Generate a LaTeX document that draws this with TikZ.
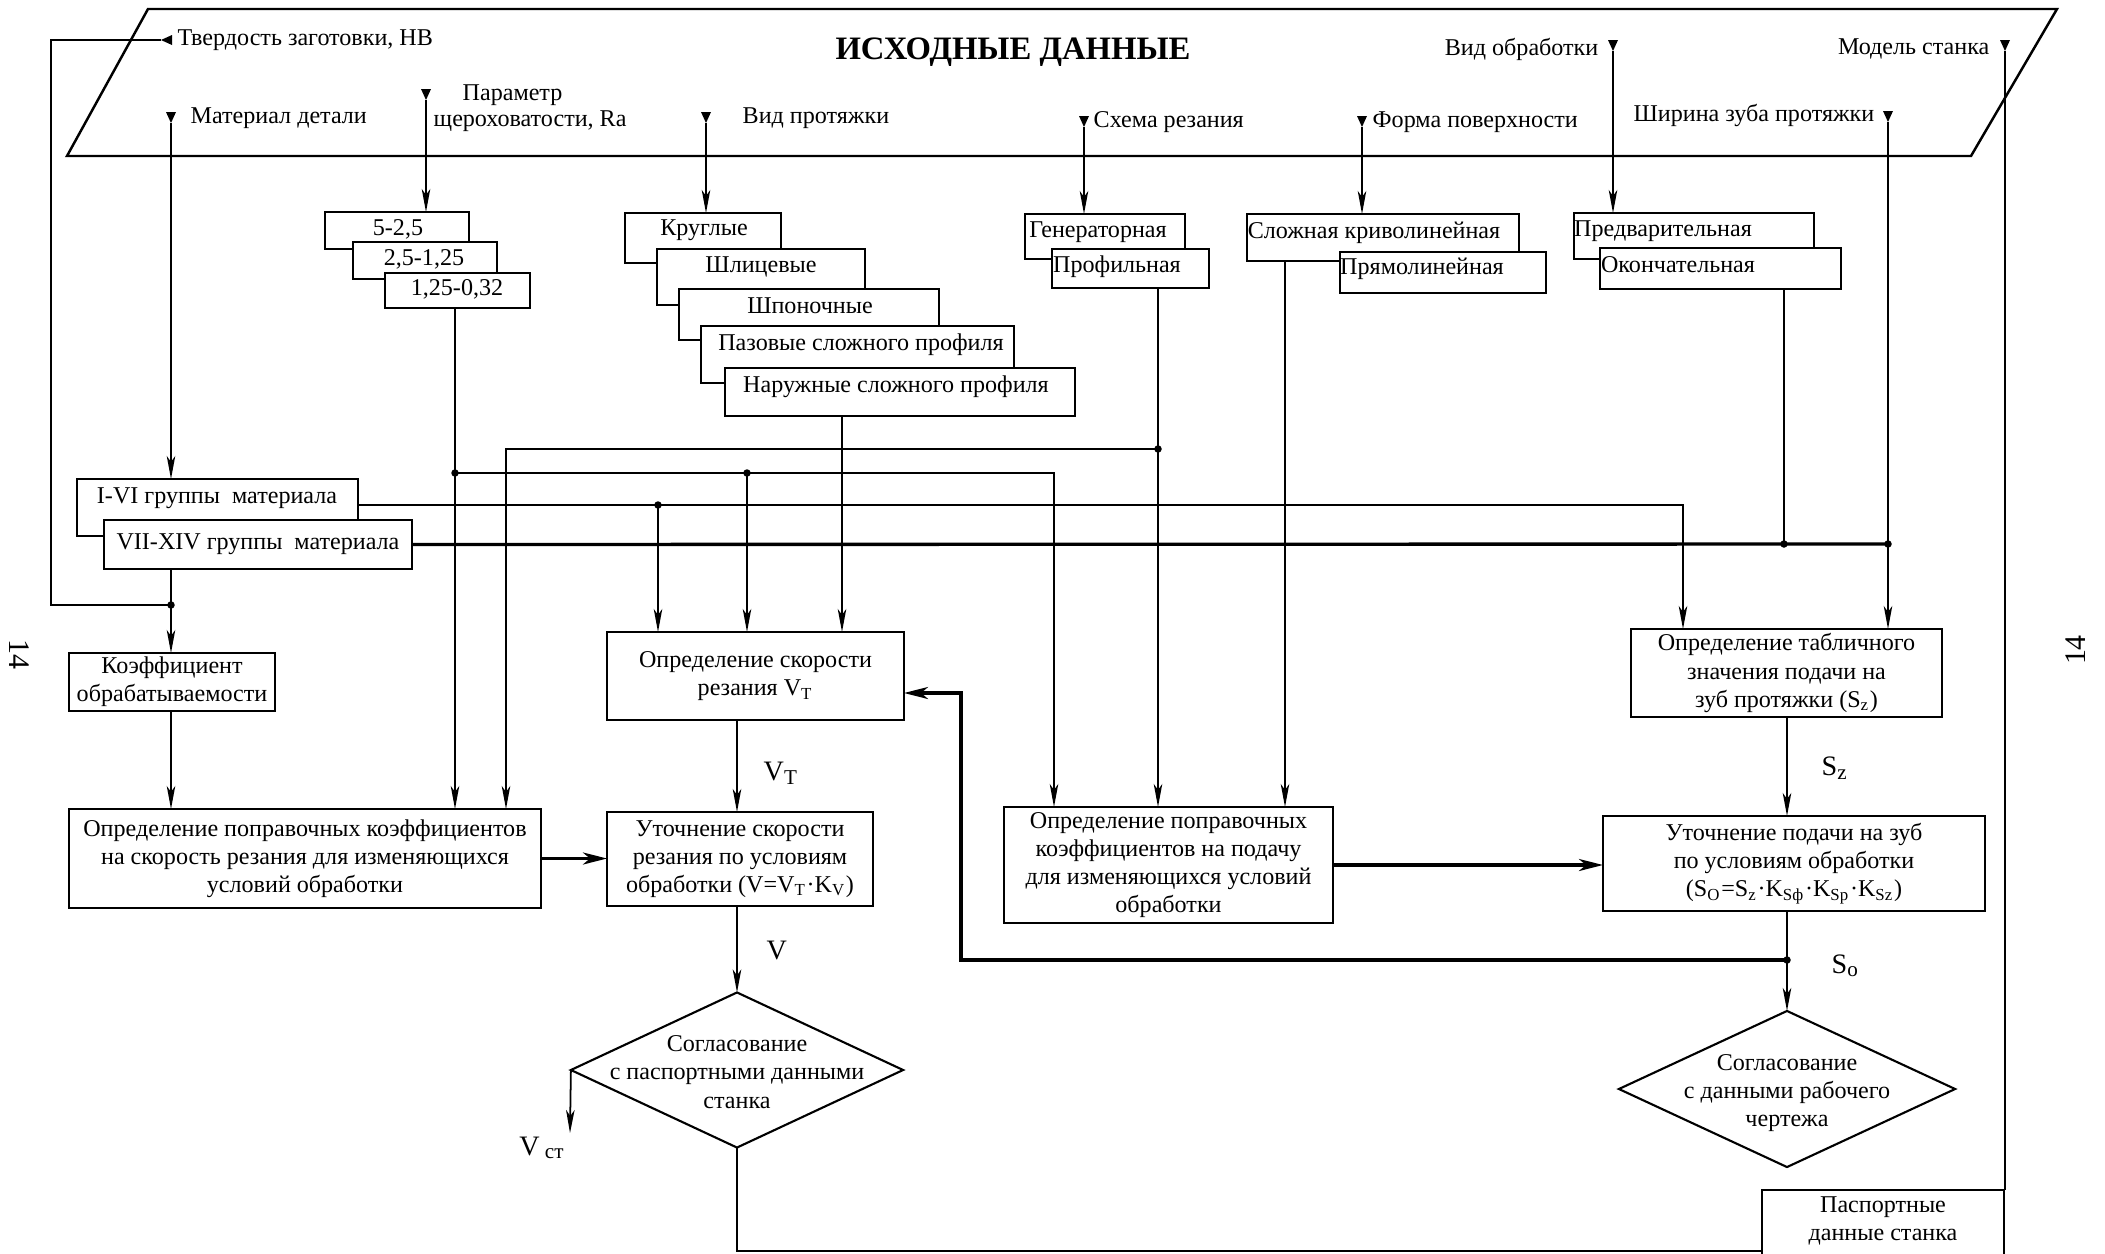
\documentclass[tikz,border=0pt]{standalone}
\usepackage{fontspec}
\setmainfont{Liberation Serif}
\usetikzlibrary{arrows.meta,shapes.geometric}
\tikzset{
 ln/.style={line width=0.5pt},
 thk/.style={line width=0.95pt},
 arr/.style={ln,-{Stealth[length=2.3mm,width=0.85mm,inset=0.6mm]}},
 tarr/.style={thk,-{Stealth[length=2.4mm,width=1.2mm,inset=0.7mm]}},
 bx/.style={draw,line width=0.6pt,fill=white,inner sep=0pt,outer sep=0pt,align=center},
 tx/.style={inner sep=0pt,align=center},
 jd/.style={circle,fill,inner sep=0pt,minimum size=0.075cm},
 lbl/.style={inner sep=0pt,font=\fontsize{8}{9}\selectfont},
 dm/.style={diamond,draw,line width=0.6pt,inner sep=0pt,outer sep=0pt},
}
\newcommand{\mybox}[6]{%
 \pgfmathsetmacro{\mbw}{(#4-#2)*0.01}%
 \pgfmathsetmacro{\mbh}{(#5-#3)*0.01}%
 \node[bx,minimum width=\mbw cm,minimum height=\mbh cm] (#1) at ({(#2+#4)/2},{(#3+#5)/2}) {#6};}
\newcommand{\mk}[3]{\coordinate (#1) at (#2,#3);\fill (#2-5,#3-11) -- (#2+5,#3-11) -- (#2,#3) -- cycle;}
\begin{document}
\begin{tikzpicture}[x=0.01cm,y=-0.01cm,every node/.append style={font=\fontsize{6.85}{8}\selectfont}]
\useasboundingbox (0,0) rectangle (2105,1254);
% header
\draw[line width=0.7pt] (148,9) -- (2057,9) -- (1971,156) -- (67,156) -- cycle;
\node[tx,font=\fontsize{9.3}{10}\selectfont\bfseries] (title) at (1013,52) {ИСХОДНЫЕ ДАННЫЕ};
% markers
\coordinate (mTv) at (161,40); \fill (161,40) -- (172,35) -- (172,45) -- cycle;
\mk{mMat}{171}{123}
\mk{mRa}{426}{100}
\mk{mVid}{706}{123}
\mk{mSch}{1084}{127}
\mk{mForm}{1362}{127}
\mk{mObr}{1613}{51}
\mk{mMod}{2005}{51}
\mk{mShir}{1888}{122}
% input labels
\node[tx,anchor=west] (lTv) at (177,40) {Твердость заготовки, НВ};
\node[tx,anchor=west] (lMat) at (190,118) {Материал детали};
\node[tx,anchor=west] (lRa1) at (462,95) {Параметр};
\node[tx,anchor=west] (lRa2) at (433,121) {щероховатости, Ra};
\node[tx,anchor=west] (lVid) at (742,118) {Вид протяжки};
\node[tx,anchor=west] (lSch) at (1093,122) {Схема резания};
\node[tx,anchor=west] (lForm) at (1372,122) {Форма поверхности};
\node[tx,anchor=east] (lObr) at (1599,49) {Вид обработки};
\node[tx,anchor=east] (lMod) at (1990,49) {Модель станка};
\node[tx,anchor=east] (lShir) at (1875,115) {Ширина зуба протяжки};
% roughness boxes
\mybox{r1}{325}{212}{469}{249}{}
\node[tx] (tr1) at (398,229) {5-2,5};
\mybox{r2}{353}{242}{497}{279}{}
\node[tx] (tr2) at (424,259) {2,5-1,25};
\mybox{r3}{385}{273}{530}{308}{}
\node[tx] (tr3) at (457,289) {1,25-0,32};
% broach type boxes
\mybox{v1}{625}{213}{781}{263}{}
\node[tx] (tv1) at (704,230) {Круглые};
\mybox{v2}{657}{249}{865}{305}{}
\node[tx] (tv2) at (761,267) {Шлицевые};
\mybox{v3}{679}{289}{939}{340}{}
\node[tx] (tv3) at (810,306) {Шпоночные};
\mybox{v4}{701}{326}{1014}{383}{}
\node[tx] (tv4) at (861,345) {Пазовые сложного профиля};
\mybox{v5}{725}{368}{1075}{416}{}
\node[tx] (tv5) at (896,387) {Наружные сложного профиля};
% scheme
\mybox{s1}{1025}{214}{1185}{259}{}
\node[tx] (ts1) at (1098,232) {Генераторная};
\mybox{s2}{1052}{249}{1209}{288}{}
\node[tx] (ts2) at (1117,267) {Профильная};
% form
\mybox{f1}{1247}{214}{1519}{261}{}
\node[tx] (tf1) at (1374,233) {Сложная криволинейная};
\mybox{f2}{1340}{252}{1546}{293}{}
\node[tx] (tf2) at (1422,269) {Прямолинейная};
% processing type
\mybox{o1}{1574}{213}{1814}{259}{}
\node[tx] (to1) at (1663,231) {Предварительная};
\mybox{o2}{1600}{248}{1841}{289}{}
\node[tx] (to2) at (1678,265) {Окончательная};
% material groups
\mybox{g1}{77}{479}{358}{536}{}
\node[tx] (tg1) at (217,498) {I-VI группы~ материала};
\mybox{g2}{104}{520}{412}{569}{}
\node[tx] (tg2) at (258,544) {VII-XIV группы~ материала};
% main boxes
\mybox{koef}{69}{653}{275}{711}{Коэффициент\\обрабатываемости}
\mybox{pks}{69}{809}{541}{908}{Определение поправочных коэффициентов\\на скорость резания для изменяющихся\\условий обработки}
\mybox{ops}{607}{632}{904}{720}{Определение скорости\\резания V\textsubscript{T}}
\mybox{uts}{607}{812}{873}{906}{Уточнение скорости\\резания по условиям\\обработки (V=V\textsubscript{T}·K\textsubscript{V})}
\mybox{ppk}{1004}{807}{1333}{923}{Определение поправочных\\коэффициентов на подачу\\для изменяющихся условий\\обработки}
\mybox{tab}{1631}{629}{1942}{717}{Определение табличного\\значения подачи на\\зуб протяжки (S\textsubscript{z})}
\mybox{utp}{1603}{816}{1985}{911}{Уточнение подачи на зуб\\по условиям обработки\\(S\textsubscript{O}=S\textsubscript{z}·K\textsubscript{Sф}·K\textsubscript{Sp}·K\textsubscript{Sz})}
\node[dm,minimum width=3.32cm,minimum height=1.55cm] (d1) at (737,1070) {};
\node[tx] (td1) at (737,1072) {Согласование\\с паспортными данными\\станка};
\node[dm,minimum width=3.36cm,minimum height=1.56cm] (d2) at (1787,1089) {};
\node[tx] (td2) at (1787,1093) {Согласование\\с данными рабочего\\чертежа};
\mybox{pas}{1762}{1190}{2004}{1290}{}
\node[tx] (tpas) at (1883,1221) {Паспортные\\данные станка};
% page numbers
\node[tx,rotate=-90,font=\fontsize{8.5}{9}\selectfont] (pgL) at (19,654) {14};
\node[tx,rotate=90,font=\fontsize{8.5}{9}\selectfont] (pgR) at (2076,650) {14};
% junctions
\node[jd] (jTv) at (171,605) {};
\node[jd] (jRa) at (455,473) {};
\node[jd] (jRa2) at (747,473) {};
\node[jd] (jPr) at (1158,449) {};
\node[jd] (jG1) at (658,505) {};
\node[jd] (jOk) at (1784,544) {};
\node[jd] (jSh) at (1888,544) {};
\node[jd] (jSo) at (1787,960) {};
\coordinate (cTv) at (51,605);
\coordinate (cRa) at (1054,473);
\coordinate (cPr) at (506,449);
\coordinate (cG1) at (1683,505);
\coordinate (xV5) at (842,416);
\coordinate (xF1) at (1285,261);
\coordinate (xV) at (737,0);
\coordinate (xS) at (1787,0);
\coordinate (cFb) at (961,693);
\coordinate (vst) at (570,1133);
\coordinate (cB) at (1762,1251);
% connectors: inputs
\draw[ln] (mTv) -| (cTv) -- (jTv.center);
\draw[arr] (mMat) -- (mMat |- g1.north);
\draw[arr] (mMat |- g2.south) -- (mMat |- koef.north);
\draw[arr] (mRa) -- (mRa |- r1.north);
\draw[arr] (mVid) -- (mVid |- v1.north);
\draw[arr] (mSch) -- (mSch |- s1.north);
\draw[arr] (mForm) -- (mForm |- f1.north);
\draw[arr] (mObr) -- (mObr |- o1.north);
\draw[ln] (mMod) -- (mMod |- pas.north);
\draw[arr] (mShir) -- (mShir |- tab.north);
% distribution lines
\draw[arr] (jRa |- r3.south) -- (jRa |- pks.north);
\draw[arr] (jRa.center) -- (cRa) -- (cRa |- ppk.north);
\draw[arr] (jRa2.center) -- (jRa2 |- ops.north);
\draw[arr] (xV5) -- (xV5 |- ops.north);
\draw[arr] (jPr |- s2.south) -- (jPr |- ppk.north);
\draw[arr] (jPr.center) -- (cPr) -- (cPr |- pks.north);
\draw[arr] (xF1) -- (xF1 |- ppk.north);
\draw[ln] (jOk |- o2.south) -- (jOk.center);
\draw[thk] (g2.east) -- (jSh.center);
\draw[arr] (g1.east |- cG1) -- (cG1) -- (cG1 |- tab.north);
\draw[arr] (jG1.center) -- (jG1 |- ops.north);
% lower flow
\draw[arr] (mMat |- koef.south) -- (mMat |- pks.north);
\draw[tarr] (pks.east) -- (pks.east -| uts.west);
\draw[arr] (xV |- ops.south) -- (xV |- uts.north);
\draw[arr] (xV |- uts.south) -- (d1.north);
\draw[arr] (d1.west) -- (vst);
\draw[ln] (d1.south) |- (cB);
\draw[tarr] (ppk.east) -- (ppk.east -| utp.west);
\draw[arr] (xS |- tab.south) -- (xS |- utp.north);
\draw[ln] (xS |- utp.south) -- (jSo.center);
\draw[arr] (jSo.center) -- (d2.north);
\draw[tarr] (jSo.center) -| (cFb) -- (cFb -| ops.east);
% flow labels
\node[lbl,anchor=west] (lVT) at (763,773) {V\textsubscript{T}};
\node[lbl,anchor=west] (lV) at (766,950) {V};
\node[lbl,anchor=east] (lVst) at (566,1148) {V\textsubscript{ ст}};
\node[lbl,anchor=west] (lSz) at (1821,768) {S\textsubscript{z}};
\node[lbl,anchor=west] (lSo) at (1831,966) {S\textsubscript{o}};
\end{tikzpicture}
\end{document}
